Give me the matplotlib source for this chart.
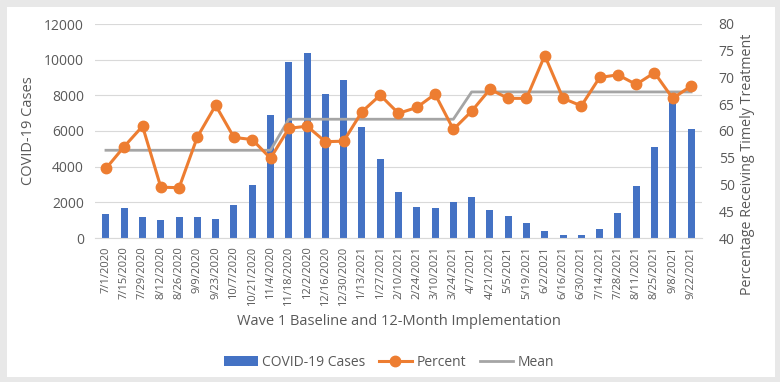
import matplotlib.pyplot as plt
import numpy as np
from matplotlib.patches import Rectangle

plt.rcParams['font.family'] = ['Open Sans', 'DejaVu Sans']

# dates (every two weeks)
dates = ["7/1/2020", "7/15/2020", "7/29/2020", "8/12/2020", "8/26/2020", "9/9/2020",
         "9/23/2020", "10/7/2020", "10/21/2020", "11/4/2020", "11/18/2020", "12/2/2020",
         "12/16/2020", "12/30/2020", "1/13/2021", "1/27/2021", "2/10/2021", "2/24/2021",
         "3/10/2021", "3/24/2021", "4/7/2021", "4/21/2021", "5/5/2021", "5/19/2021",
         "6/2/2021", "6/16/2021", "6/30/2021", "7/14/2021", "7/28/2021", "8/11/2021",
         "8/25/2021", "9/8/2021", "9/22/2021"]

cases = [1350, 1680, 1160, 1010, 1200, 1200, 1070, 1850, 2970, 6900, 9850, 10360,
         8080, 8860, 6210, 4410, 2600, 1760, 1670, 2000, 2280, 1570, 1230, 860,
         410, 170, 170, 500, 1390, 2940, 5120, 7900, 6110]

percent = [53.0, 57.1, 60.9, 49.5, 49.4, 58.9, 64.8, 58.8, 58.4, 54.9, 60.5, 60.9,
           58.0, 58.1, 63.6, 66.7, 63.3, 64.4, 66.9, 60.3, 63.7, 67.8, 66.1, 66.1,
           74.1, 66.1, 64.7, 70.0, 70.5, 68.7, 70.9, 66.1, 68.4]

# mean of each phase (baseline, months 1-5, months 6-12)
phase_means = [56.4, 62.2, 67.3]
phase_lengths = [10, 10, 13]
mean_line = np.repeat(phase_means, phase_lengths)

blue = '#4472C4'
orange = '#ED7D31'
grey = '#A5A5A5'
txt = '#595959'

fig = plt.figure(figsize=(7.8, 3.82), dpi=100)
fig.patch.set_facecolor('white')
# grey frame around the white panel
fig.patches.append(Rectangle((2.5/780, 2.5/382), 775/780, 377/382, transform=fig.transFigure,
                             facecolor='none', edgecolor='#E8E8E8', linewidth=5, zorder=5))

ax = fig.add_axes([95/780, 1 - 238/382, (702-95)/780, (238-24)/382])
x = np.arange(len(dates))

ax.bar(x, cases, width=0.38, color=blue, label='COVID-19 Cases', zorder=2)
ax.set_ylim(0, 12000)
ax.set_yticks(range(0, 12001, 2000))
ax.set_xlim(-0.6, len(dates) - 0.4)
ax.set_xticks(x)
ax.set_xticklabels(dates, rotation=90, fontsize=8, color=txt)
ax.tick_params(axis='y', labelsize=10, colors=txt, length=0, pad=8)
ax.tick_params(axis='x', length=0, pad=6)
ax.grid(axis='y', color='#D9D9D9', linewidth=0.8, zorder=0)
ax.set_axisbelow(True)
for s in ['top', 'right', 'left']:
    ax.spines[s].set_visible(False)
ax.spines['bottom'].set_color('#D9D9D9')
ax.set_ylabel('COVID-19 Cases', fontsize=10.5, color=txt)
ax.yaxis.set_label_coords((36 - 95) / 607, 0.5)
ax.set_xlabel('Wave 1 Baseline and 12-Month Implementation', fontsize=10.5, color=txt, labelpad=6)

ax2 = ax.twinx()
ax2.plot(x, mean_line, color=grey, linewidth=2, label='Mean', zorder=3)
ax2.plot(x, percent, color=orange, linewidth=2.2, marker='o', markersize=7.5,
         label='Percent', zorder=4)
ax2.set_ylim(40, 80)
ax2.set_yticks(range(40, 81, 5))
ax2.tick_params(axis='y', labelsize=10, colors=txt, length=0, pad=12)
for s in ['top', 'right', 'left', 'bottom']:
    ax2.spines[s].set_visible(False)
ax2.set_ylabel('Percentage Receiving Timely Treatment', fontsize=10.3, color=txt)
ax2.yaxis.set_label_coords((740 - 95) / 607, (238 - 164) / 214)

h1, l1 = ax.get_legend_handles_labels()
h2, l2 = ax2.get_legend_handles_labels()
order = [h1[0], h2[1], h2[0]]
labels = [l1[0], l2[1], l2[0]]
fig.legend(order, labels, loc='center', bbox_to_anchor=(389/780, 1 - 362/382), ncol=3,
           frameon=False, fontsize=10, labelcolor=txt, handlelength=2.4, columnspacing=1.0,
           handletextpad=0.3)

fig.savefig('out.png', dpi=100, facecolor=fig.get_facecolor())
